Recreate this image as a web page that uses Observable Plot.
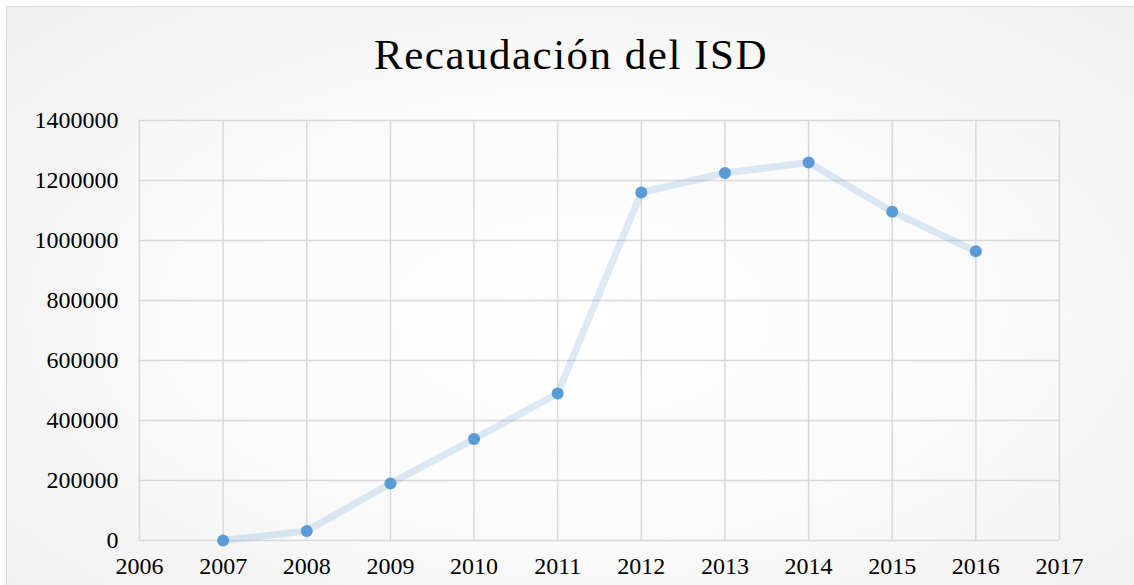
<!DOCTYPE html>
<html>
<head>
<meta charset="utf-8">
<script src="https://cdn.jsdelivr.net/npm/d3@7"></script>
<script src="https://cdn.jsdelivr.net/npm/@observablehq/plot@0.6"></script>
<style>
  html, body { margin: 0; padding: 0; width: 1134px; height: 585px; overflow: hidden; background: #ffffff; }
  #frame {
    position: absolute; left: 6px; top: 6px; width: 1150px; height: 620px;
    border: 1.5px solid #d9d9d9; box-sizing: border-box;
    background: radial-gradient(ellipse at 50% 50%, #ffffff 0%, #fbfbfb 45%, #efefef 100%);
  }
  #chart { position: absolute; left: 0; top: 0; width: 1134px; height: 585px; }
  #title {
    height: 90px; width: 1134px; text-align: center;
    font-family: "Liberation Serif", "Times New Roman", serif;
    font-size: 43px; letter-spacing: 1.5px; line-height: 1; color: #000;
    padding-top: 33px; padding-left: 8px; box-sizing: border-box;
  }
</style>
</head>
<body>
<div id="frame"></div>
<div id="chart">
  <div id="title">Recaudación del ISD</div>
  <div id="plot"></div>
</div>
<script>
const years = [2007, 2008, 2009, 2010, 2011, 2012, 2013, 2014, 2015, 2016];
const values = [0, 32000, 190000, 338000, 490000, 1160000, 1225000, 1260000, 1096000, 964000];
const xTicks = [2006, 2007, 2008, 2009, 2010, 2011, 2012, 2013, 2014, 2015, 2016, 2017];
const yTicks = [0, 200000, 400000, 600000, 800000, 1000000, 1200000, 1400000];

const data = years.map((y, i) => ({year: y, value: values[i]}));

const gridColor = "#d9d9d9";
const chart = Plot.plot({
  width: 1134,
  height: 495,
  marginLeft: 139,
  marginRight: 75,
  marginTop: 30,
  marginBottom: 45,
  style: {fontFamily: "Liberation Serif, Times New Roman, serif", fontSize: "24px", color: "#000", background: "transparent", overflow: "visible"},
  x: {domain: [2006, 2017], type: "linear"},
  y: {domain: [0, 1400000]},
  marks: [
    Plot.ruleX(xTicks, {stroke: gridColor, strokeWidth: 1.5}),
    Plot.ruleY(yTicks, {stroke: gridColor, strokeWidth: 1.5}),
    Plot.axisX({ticks: xTicks, tickSize: 0, tickPadding: 16, tickFormat: d => String(d), fontSize: 24, label: null}),
    Plot.axisY({ticks: yTicks, tickSize: 0, tickPadding: 21, tickFormat: d => String(d), fontSize: 24, label: null}),
    Plot.line(data, {x: "year", y: "value", stroke: "#5b9bd5", strokeOpacity: 0.2, strokeWidth: 7, strokeLinejoin: "round", strokeLinecap: "round"}),
    Plot.dot(data, {x: "year", y: "value", r: 6, fill: "#5b9bd5", stroke: "none"})
  ]
});
document.getElementById("plot").appendChild(chart);
</script>
</body>
</html>
